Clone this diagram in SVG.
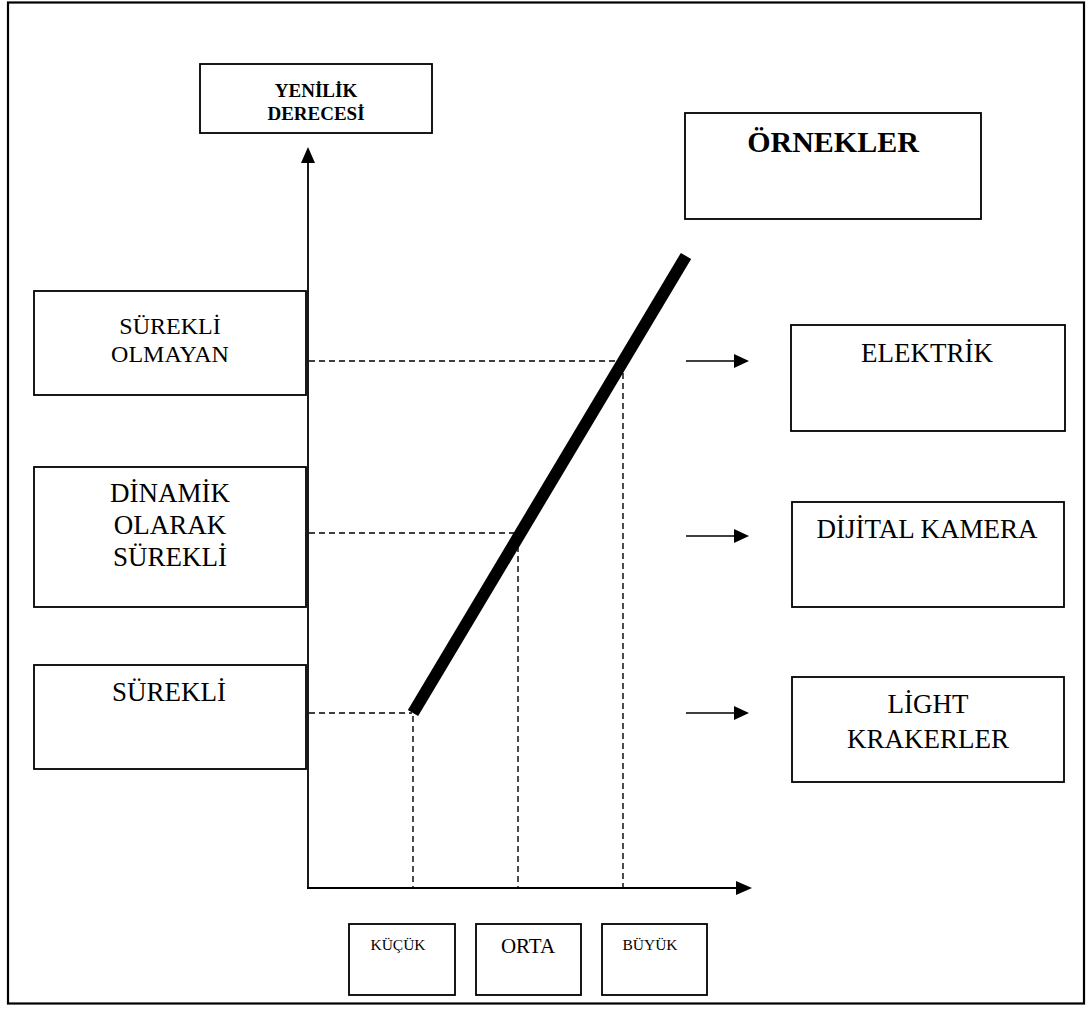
<svg xmlns="http://www.w3.org/2000/svg" width="1089" height="1010" viewBox="0 0 1089 1010">
  <style>
    .box { fill: #fff; stroke: #000; stroke-width: 1.8; }
    .t { font-family: "Liberation Serif", "Times New Roman", serif; fill: #000; text-anchor: middle; }
    .n { font-size: 27px; }
    .b { font-weight: bold; }
    .s { font-size: 15.5px; }
    .axis { stroke: #000; stroke-width: 1.8; fill: none; }
    .dash { stroke: #000; stroke-width: 1.4; stroke-dasharray: 6 4; fill: none; }
    .ptr { stroke: #000; stroke-width: 1.6; fill: none; }
    .head { fill: #000; }
  </style>

  <!-- page frame -->
  <rect x="8" y="2.5" width="1076" height="1001" fill="#fff" stroke="#000" stroke-width="2.2"/>

  <g id="yenilik-derecesi">
    <rect class="box" x="200" y="64" width="232" height="69"/>
    <text class="t b" x="316" y="97" font-size="19">YENİLİK</text>
    <text class="t b" x="316" y="120" font-size="19">DERECESİ</text>
  </g>

  <g id="ornekler">
    <rect class="box" x="685" y="113" width="296" height="106"/>
    <text class="t b" x="833" y="152" font-size="30">ÖRNEKLER</text>
  </g>

  <g id="surekli-olmayan">
    <rect class="box" x="34" y="291" width="272" height="104"/>
    <text class="t" x="170" y="334" font-size="24">SÜREKLİ</text>
    <text class="t" x="170" y="362" font-size="24">OLMAYAN</text>
  </g>

  <g id="dinamik-surekli">
    <rect class="box" x="34" y="467" width="272" height="140"/>
    <text class="t n" x="170" y="502">DİNAMİK</text>
    <text class="t n" x="170" y="534">OLARAK</text>
    <text class="t n" x="170" y="566">SÜREKLİ</text>
  </g>

  <g id="surekli">
    <rect class="box" x="34" y="665" width="272" height="104"/>
    <text class="t n" x="169" y="701">SÜREKLİ</text>
  </g>

  <g id="elektrik">
    <rect class="box" x="791" y="325" width="274" height="106"/>
    <text class="t n" x="927" y="362">ELEKTRİK</text>
  </g>

  <g id="dijital-kamera">
    <rect class="box" x="792" y="502" width="272" height="105"/>
    <text class="t n" x="927" y="538">DİJİTAL KAMERA</text>
  </g>

  <g id="light-krakerler">
    <rect class="box" x="792" y="677" width="272" height="105"/>
    <text class="t n" x="928" y="713">LİGHT</text>
    <text class="t n" x="928" y="748">KRAKERLER</text>
  </g>

  <g id="kucuk">
    <rect class="box" x="349" y="924" width="106" height="71"/>
    <text class="t s" x="398" y="950">KÜÇÜK</text>
  </g>

  <g id="orta">
    <rect class="box" x="476" y="924" width="105" height="71"/>
    <text class="t" x="528" y="953" font-size="21">ORTA</text>
  </g>

  <g id="buyuk">
    <rect class="box" x="602" y="924" width="105" height="71"/>
    <text class="t s" x="650" y="950">BÜYÜK</text>
  </g>

  <g id="connectors">
    <!-- axes -->
    <line class="axis" x1="308" y1="889" x2="308" y2="160"/>
    <polygon class="head" points="308,147 301,163 315,163"/>
    <line class="axis" x1="307" y1="888" x2="738" y2="888"/>
    <polygon class="head" points="752,888 736,881 736,895"/>

    <!-- guide lines -->
    <line class="dash" x1="309" y1="361" x2="620" y2="361"/>
    <line class="dash" x1="623" y1="373" x2="623" y2="887"/>
    <line class="dash" x1="309" y1="533" x2="516" y2="533"/>
    <line class="dash" x1="518" y1="536" x2="518" y2="887"/>
    <line class="dash" x1="309" y1="713" x2="412" y2="713"/>
    <line class="dash" x1="413" y1="716" x2="413" y2="887"/>

    <!-- trend line -->
    <line x1="413" y1="713" x2="686" y2="256" stroke="#000" stroke-width="12"/>

    <!-- pointers to examples -->
    <line class="ptr" x1="686" y1="361" x2="735" y2="361"/>
    <polygon class="head" points="749,361 734,354 734,368"/>
    <line class="ptr" x1="686" y1="536" x2="735" y2="536"/>
    <polygon class="head" points="749,536 734,529 734,543"/>
    <line class="ptr" x1="686" y1="713" x2="735" y2="713"/>
    <polygon class="head" points="749,713 734,706 734,720"/>
  </g>
</svg>
